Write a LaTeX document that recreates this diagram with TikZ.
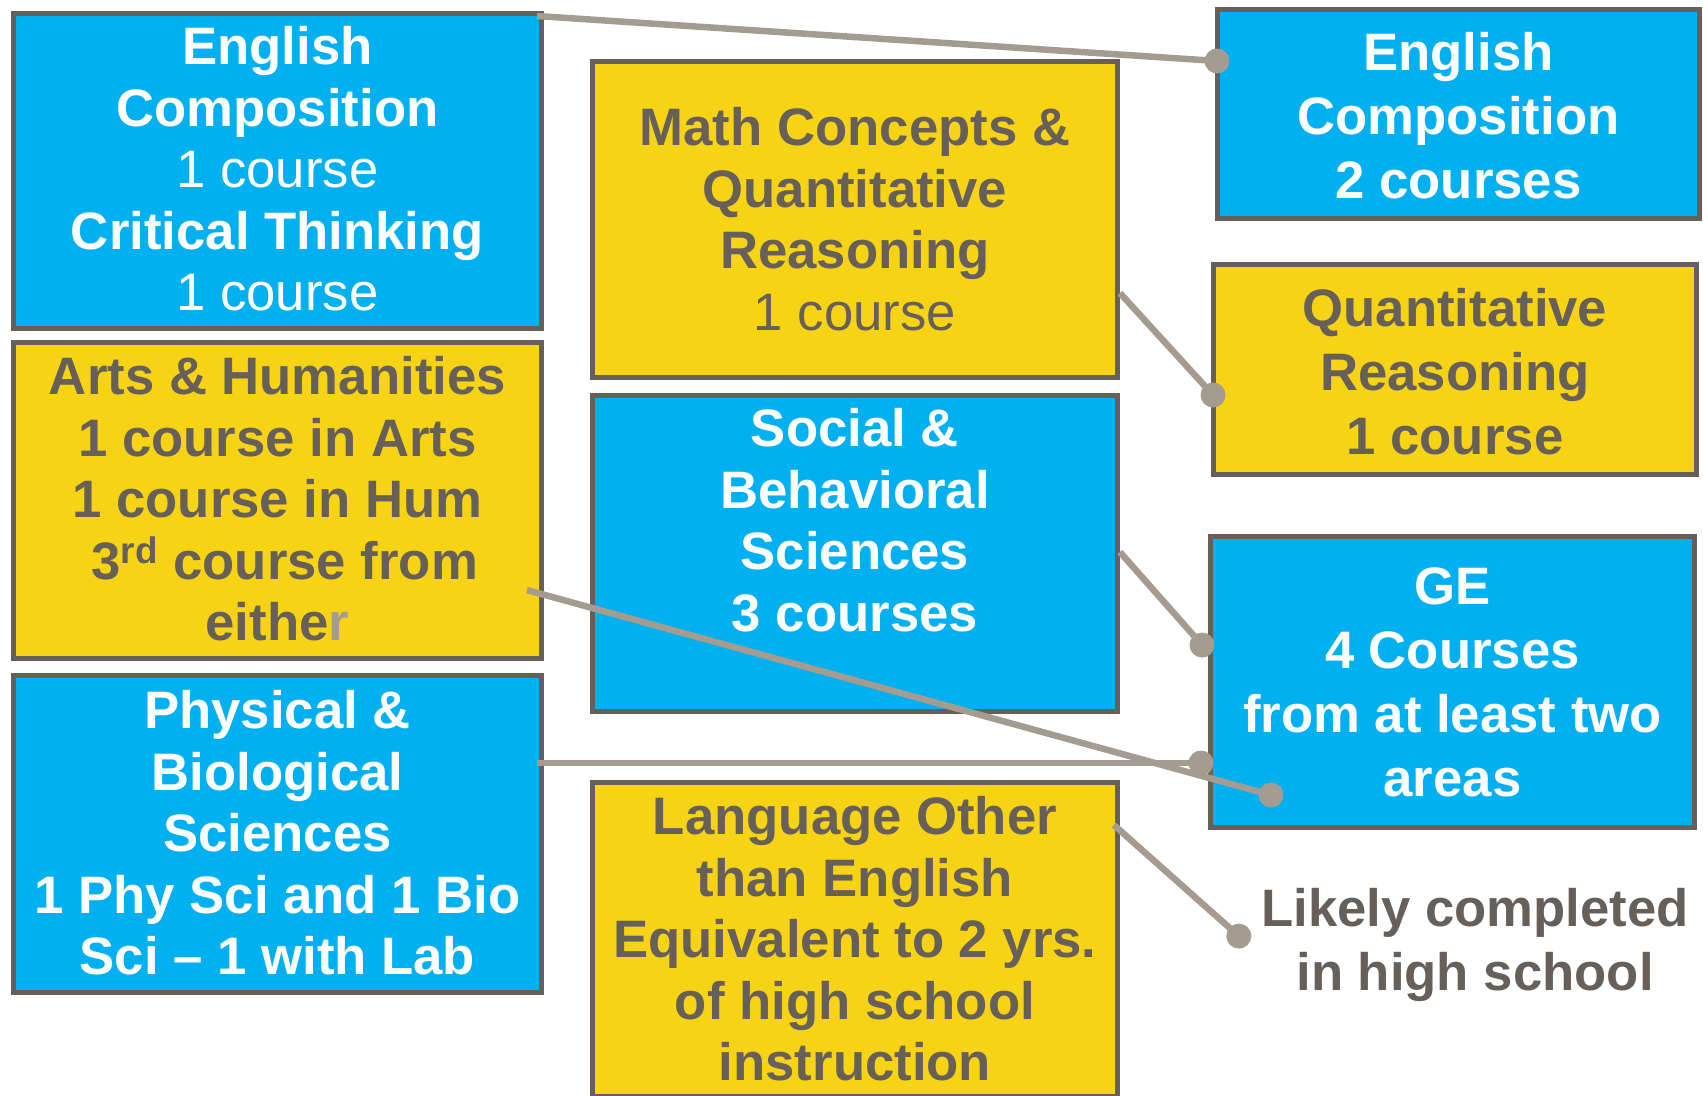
\documentclass[tikz,border=0pt]{standalone}
\usepackage{fontspec}
\setmainfont{Liberation Sans}
\usetikzlibrary{positioning}
\usetikzlibrary{calc}
\definecolor{mblue}{HTML}{00B0F0}
\definecolor{myellow}{HTML}{F6D415}
\definecolor{mgray}{HTML}{675F59}
\definecolor{mline}{HTML}{A59C91}
\tikzset{box/.style = {draw=mgray, line width=0.1cm, anchor=north west, inner sep=0}}
\tikzset{bluebox/.style = {box, fill=mblue}}
\tikzset{yellowbox/.style = {box, fill=myellow}}
\tikzset{wtext/.style = {text=white, inner sep=0, anchor=north, align=center,
                         font=\bfseries\fontsize{30}{35}\selectfont}}
\tikzset{gtext/.style = {wtext, text=mgray}}
\tikzset{tall/.style = {font=\bfseries\fontsize{30}{36.5}\selectfont}}
\tikzset{link/.style = {draw=mline, line width=0.13cm}}
\tikzset{dot/.style = {fill=mline, circle, inner sep=0, minimum size=0.5cm}}

\begin{document}
\begin{tikzpicture}[x=0.02cm, y=-0.02cm]
    \useasboundingbox (0, 0) rectangle (1703, 1095);

    \node [bluebox, minimum width=10.56cm, minimum height=6.30cm] (engl) at (11, 11) {};
    \node [yellowbox, minimum width=10.56cm, minimum height=6.32cm] (arts) at (11, 340) {};
    \node [bluebox, minimum width=10.56cm, minimum height=6.34cm] (phys) at (11, 673) {};
    \node [yellowbox, minimum width=10.50cm, minimum height=6.32cm] (math) at (590, 59) {};
    \node [bluebox, minimum width=10.50cm, minimum height=6.32cm] (soc) at (590, 393) {};
    \node [yellowbox, minimum width=10.50cm, minimum height=6.28cm] (lang) at (590, 780) {};
    \node [bluebox, minimum width=9.64cm, minimum height=4.18cm] (engr) at (1215, 7) {};
    \node [yellowbox, minimum width=9.66cm, minimum height=4.20cm] (quant) at (1211, 262) {};
    \node [bluebox, minimum width=9.68cm, minimum height=5.82cm] (ge) at (1208, 534) {};

    \node [wtext, below=0.30cm of engl.north] (englt)
          {English\\Composition\\{\mdseries 1 course}\\Critical Thinking\\{\mdseries 1 course}};
    \node [gtext, below=0.32cm of arts.north] (artst)
          {Arts \& Humanities\\1 course in Arts\\1 course in Hum\\
           \ 3\textsuperscript{rd} course from\\eithe\textcolor{mline}{r}};
    \node [wtext, below=0.34cm of phys.north] (physt)
          {Physical \&\\Biological\\Sciences\\1 Phy Sci and 1 Bio\\Sci -- 1 with Lab};
    \node [gtext, below=0.96cm of math.north] (matht)
          {Math Concepts \&\\Quantitative\\Reasoning\\{\mdseries 1 course}};
    \node [wtext, below=0.30cm of soc.north] (soct)
          {Social \&\\Behavioral\\Sciences\\3 courses};
    \node [gtext, below=0.32cm of lang.north] (langt)
          {Language Other\\than English\\Equivalent to 2 yrs.\\of high school\\instruction};
    \node [wtext, tall, below=0.49cm of engr.north] (engrt)
          {English\\Composition\\2 courses};
    \node [gtext, tall, below=0.52cm of quant.north] (quantt)
          {Quantitative\\Reasoning\\1 course};
    \node [wtext, tall, below=0.66cm of ge.north] (get)
          {GE\\4 Courses\\from at least two\\areas};
    \node [gtext, tall] (hs) at (1475, 888) {Likely completed\\in high school};

    % connectors
    \draw [link] ($(engl.north east)+(-7, 5)$) -- ($(engr.north west)+(2, 54)$)
          node [dot] (d1) {};
    \draw [link] ($(math.north east)+(0, 234)$) -- ($(quant.north west)+(2, 133)$)
          node [dot] (d2) {};
    \draw [link] ($(soc.north east)+(0, 159)$) -- ($(ge.north west)+(-6, 111)$)
          node [dot] (d3) {};
    \draw [link] ($(phys.north east)+(-7, 90)$) -- ($(ge.north west)+(-7, 229)$)
          node [dot] (d4) {};
    \draw [link] ($(arts.north east)+(-17, 250)$) -- ($(ge.north west)+(63, 261)$)
          node [dot] (d5) {};
    \draw [link] ($(lang.north east)+(-6, 45)$) -- ($(hs.west)+(-22, -9)$)
          node [dot] (d6) {};
\end{tikzpicture}
\end{document}
